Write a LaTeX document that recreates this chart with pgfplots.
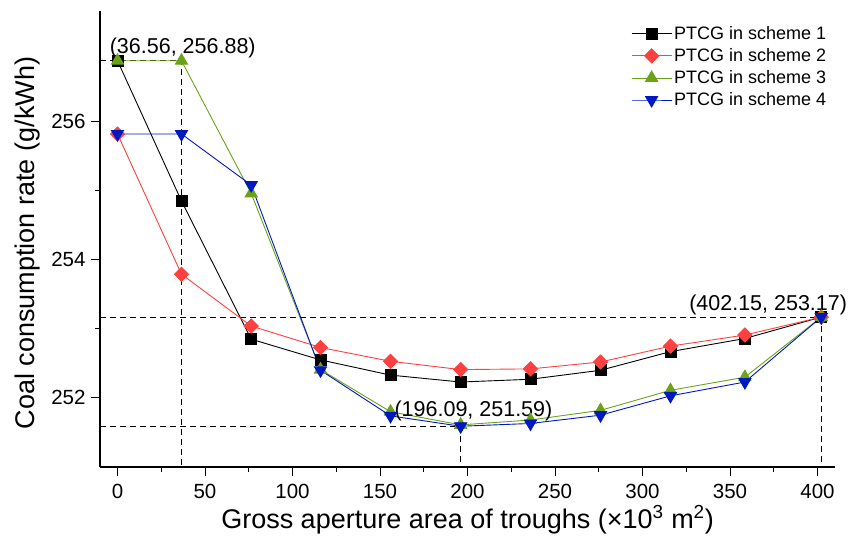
\documentclass[border=0pt]{standalone}
\usepackage{fontspec}
\setmainfont{Liberation Sans}
\usepackage{pgfplots}
\pgfplotsset{compat=1.18}

\definecolor{sred}{RGB}{255,64,64}
\definecolor{sgreen}{RGB}{106,163,24}
\definecolor{sblue}{RGB}{0,24,192}

\begin{document}
\begin{tikzpicture}
\begin{axis}[
  scale only axis, width=735pt, height=456pt,
  xmin=-10, xmax=410, ymin=251, ymax=257.6,
  axis lines=left, axis line style={-, line width=1.1pt},
  xtick={0,50,...,400}, minor x tick num=1,
  ytick={252,254,256}, minor y tick num=1,
  tick align=outside, major tick length=9pt, minor tick length=5pt,
  tick style={black, line width=1pt},
  /pgf/number format/assume math mode=true,
  ticklabel style={font=\fontsize{20.5}{24}\selectfont},
  xticklabel style={yshift=-5pt},
  yticklabel style={xshift=-2pt},
  xlabel={Gross aperture area of troughs (×10\textsuperscript{3} m\textsuperscript{2})},
  ylabel={Coal consumption rate (g/kWh)},
  xlabel style={font=\fontsize{27}{30}\selectfont, at={([yshift=-61pt]axis description cs:0.5,0)}, anchor=base},
  ylabel style={font=\fontsize{27}{30}\selectfont, at={([xshift=-65pt,yshift=-4pt]axis description cs:0,0.5)}, anchor=base},
  clip=false,
  every axis plot/.append style={line width=0.9pt},
  legend cell align=left,
  legend style={draw=none, fill=none, at={(0.995,0.975)}, anchor=north east,
    font=\fontsize{18}{20}\selectfont, row sep=3.5pt},
  legend image code/.code={\draw[mark repeat=2,mark phase=2] plot coordinates {(0pt,0pt)(20pt,0pt)(40pt,0pt)};},
]
% guide lines to the highlighted points
\addplot[black, line width=1pt, dash pattern=on 6pt off 4pt, forget plot] coordinates {(-10,256.88)(36.56,256.88)(36.56,251)};
\addplot[black, line width=1pt, dash pattern=on 6pt off 4pt, forget plot] coordinates {(-10,251.59)(196.09,251.59)(196.09,251)};
\addplot[black, line width=1pt, dash pattern=on 6pt off 4pt, forget plot] coordinates {(-10,253.17)(402.15,253.17)(402.15,251)};

\addplot[black, mark=square*, mark size=5.5pt, mark options={solid}] coordinates {
  (0,256.88)(36.56,254.85)(76.4,252.85)(116,252.55)(156,252.33)(196.09,252.23)
  (236,252.27)(276,252.40)(316,252.67)(358.5,252.86)(402.15,253.17)};
\addlegendentry{PTCG in scheme 1}
\addplot[sred, mark=square*, mark size=5pt, mark options={solid, rotate=45}] coordinates {
  (0,255.82)(36.56,253.79)(76.4,253.04)(116,252.73)(156,252.53)(196.09,252.41)
  (236,252.42)(276,252.52)(316,252.75)(358.5,252.91)(402.15,253.17)};
\addlegendentry{PTCG in scheme 2}
\addplot[sgreen, mark=triangle*, mark size=7pt, mark options={solid}] coordinates {
  (0,256.88)(36.56,256.88)(76.4,254.96)(116,252.41)(156,251.80)(196.09,251.61)
  (236,251.68)(276,251.82)(316,252.11)(358.5,252.30)(402.15,253.17)};
\addlegendentry{PTCG in scheme 3}
\addplot[sblue, mark=triangle*, mark size=7pt, mark options={solid, rotate=180}] coordinates {
  (0,255.82)(36.56,255.82)(76.4,255.08)(116,252.40)(156,251.74)(196.09,251.59)
  (236,251.63)(276,251.75)(316,252.03)(358.5,252.23)(402.15,253.17)};
\addlegendentry{PTCG in scheme 4}

\node[anchor=base west, inner sep=0pt, font=\fontsize{21.5}{24}\selectfont] at (axis cs:-4.5,256.98) {(36.56, 256.88)};
\node[anchor=base west, inner sep=0pt, font=\fontsize{21.5}{24}\selectfont] at (axis cs:158.2,251.73) {(196.09, 251.59)};
\node[anchor=base east, inner sep=0pt, font=\fontsize{21.5}{24}\selectfont] at (axis cs:417,253.27) {(402.15, 253.17)};
\end{axis}
\pgfresetboundingbox
\path[use as bounding box] ([xshift=-100pt,yshift=-69pt]current axis.south west) rectangle ++(853pt,536pt);
\end{tikzpicture}
\end{document}
